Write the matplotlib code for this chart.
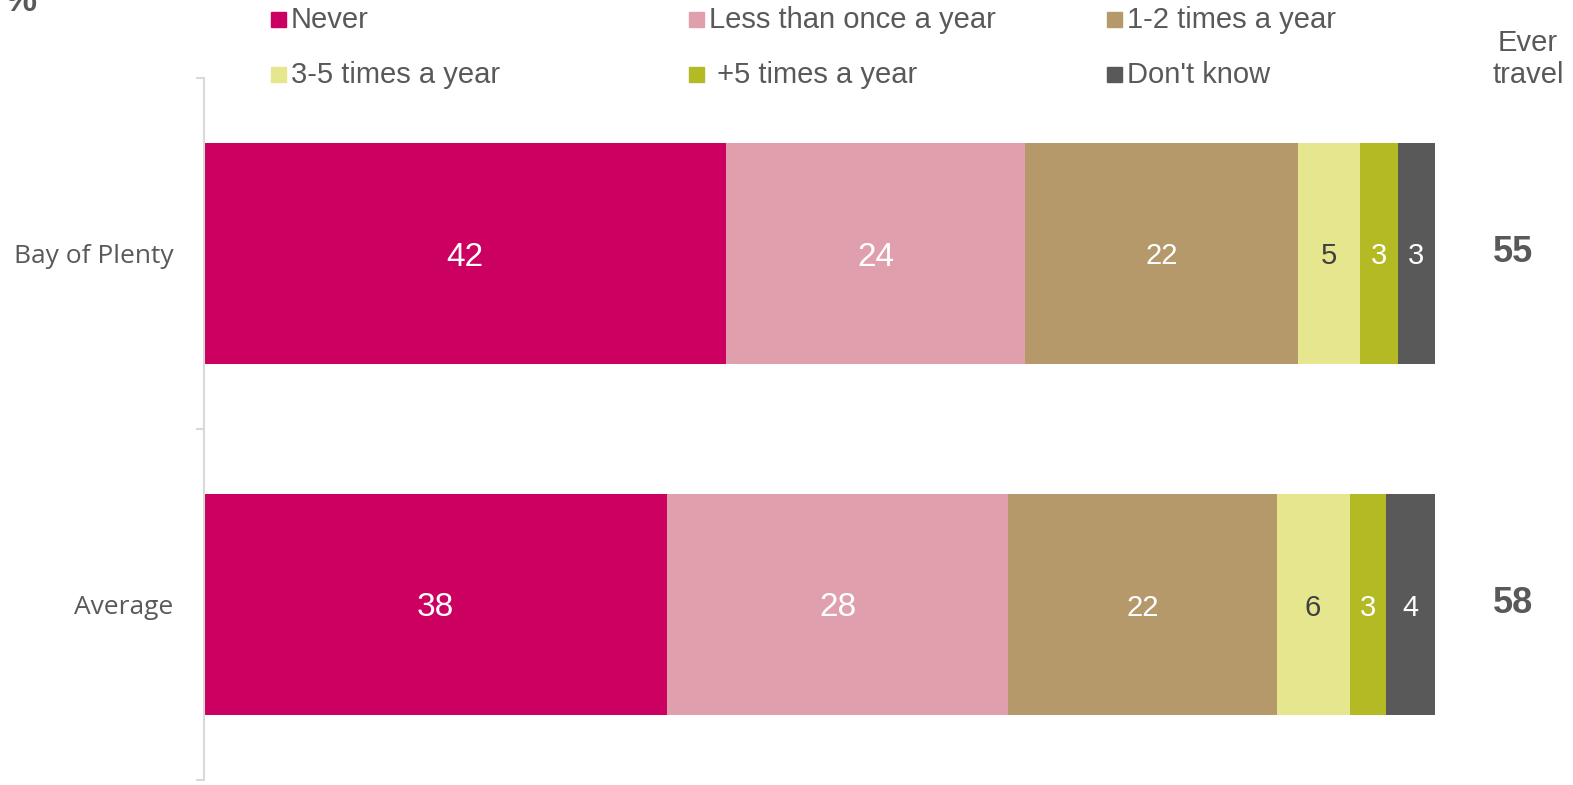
import numpy as np
import matplotlib
matplotlib.use("Agg")
import matplotlib.pyplot as plt
from matplotlib.patches import Rectangle

regions = ["Bay of Plenty", "Average"]
categories = ["Never", "Less than once a year", "1-2 times a year",
              "3-5 times a year", " +5 times a year", "Don't know"]
never = [42, 38]
less_once = [24, 28]
one_two = [22, 22]
three_five = [5, 6]
five_plus = [3, 3]
dont_know = [3, 4]
ever_travel = [55, 58]

colors = ["#CC0060", "#E09FAC", "#B5996A", "#E5E68E", "#B4BA24", "#595959"]
label_colors = ["white", "white", "white", "#404040", "white", "white"]
label_sizes = [24, 24, 21, 21, 21, 21]
grey = "#595959"

series = [never, less_once, one_two, three_five, five_plus, dont_know]
vals = np.array(series, dtype=float)
# 100% stacked: each row fills the full width
shares = vals / vals.sum(axis=0) * 100

W, H = 1573, 785
fig = plt.figure(figsize=(W / 100, H / 100), dpi=100)
ax = fig.add_axes([204 / W, 5 / H, (1435 - 204) / W, 702 / H])

y = np.arange(len(regions))
left = np.zeros(len(regions))
for i, name in enumerate(categories):
    ax.barh(y, shares[i], left=left, height=0.632, color=colors[i], linewidth=0)
    for j in range(len(regions)):
        ax.text(left[j] + shares[i][j] / 2, y[j], f"{series[i][j]:g}",
                ha="center", va="center_baseline", color=label_colors[i],
                fontsize=label_sizes[i], family="Liberation Sans")
    left += shares[i]

ax.set_xlim(0, 100)
ax.set_ylim(1.5, -0.5)
for s in ["top", "right", "bottom"]:
    ax.spines[s].set_visible(False)
ax.spines["left"].set_color("#d9d9d9")
ax.spines["left"].set_linewidth(1.5)
ax.set_xticks([])
ax.set_yticks(y)
ax.set_yticklabels(regions, fontsize=19, color=grey, family="Open Sans")
ax.tick_params(axis="y", which="major", length=0, pad=22)
ax.set_yticks([-0.5, 0.5, 1.5], minor=True)
ax.tick_params(axis="y", which="minor", length=6, width=1.5, color="#d9d9d9")

# ever travel column
for j in range(len(regions)):
    yy = ax.transData.transform((0, y[j]))[1]
    fig.text(1513 / W, (yy + 5) / H, str(ever_travel[j]), ha="center",
             va="center_baseline", fontsize=26, fontweight="bold", color=grey,
             family="Liberation Sans")
fig.text(1528 / W, 1 - 59 / H, "Ever\ntravel", ha="center", va="center",
         fontsize=21, color=grey, family="Liberation Sans", linespacing=1.2)

# legend drawn by hand, 3 columns x 2 rows
col_x = [271, 689, 1107]
row_y = [19, 74]
for k, name in enumerate(categories):
    cx = col_x[k % 3]
    cy = row_y[k // 3]
    fig.patches.append(Rectangle((cx / W, 1 - (cy + 7.5) / H), 15 / W, 15 / H,
                                 transform=fig.transFigure, color=colors[k]))
    fig.text((cx + 20) / W, 1 - (cy + 1) / H, name, ha="left", va="center",
             fontsize=21, color=grey, family="Liberation Sans")

# the "%" unit label sits partly above the top edge, as in the original
fig.text(4 / W, 1 - 11 / H, "%", ha="left", va="baseline", fontsize=26,
         fontweight="bold", color=grey, family="Liberation Sans")

fig.savefig("out.png", dpi=100)
